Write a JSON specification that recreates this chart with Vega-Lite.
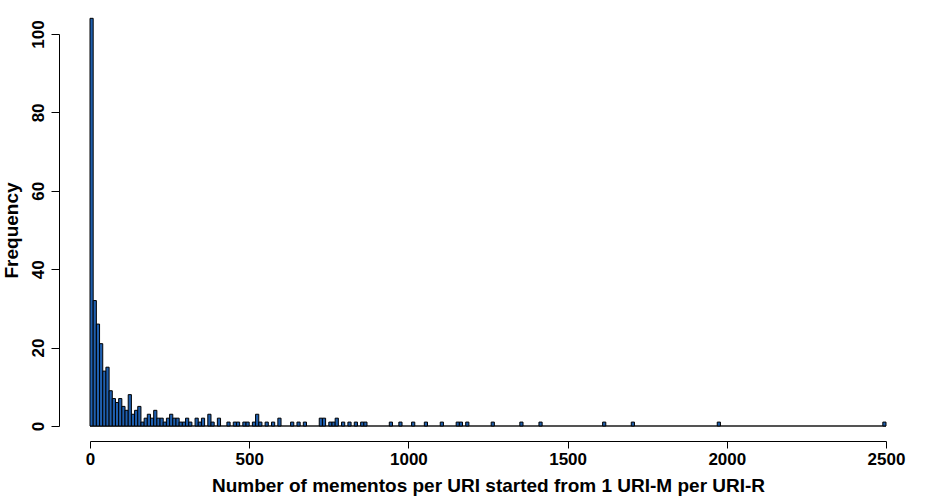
{
  "$schema": "https://vega.github.io/schema/vega-lite/v6.json",
  "width": 796,
  "height": 392,
  "autosize": {"type": "none"},
  "padding": {"left": 90, "top": 34, "right": 64, "bottom": 74},
  "background": "white",
  "config": {"view": {"stroke": null}, "font": "Liberation Sans"},
  "data": {"values": [
    {"start": 0, "end": 10, "count": 104},
    {"start": 10, "end": 20, "count": 32},
    {"start": 20, "end": 30, "count": 26},
    {"start": 30, "end": 40, "count": 21},
    {"start": 40, "end": 50, "count": 14},
    {"start": 50, "end": 60, "count": 15},
    {"start": 60, "end": 70, "count": 9},
    {"start": 70, "end": 80, "count": 7},
    {"start": 80, "end": 90, "count": 6},
    {"start": 90, "end": 100, "count": 7},
    {"start": 100, "end": 110, "count": 5},
    {"start": 110, "end": 120, "count": 4},
    {"start": 120, "end": 130, "count": 8},
    {"start": 130, "end": 140, "count": 3},
    {"start": 140, "end": 150, "count": 4},
    {"start": 150, "end": 160, "count": 5},
    {"start": 160, "end": 170, "count": 1},
    {"start": 170, "end": 180, "count": 2},
    {"start": 180, "end": 190, "count": 3},
    {"start": 190, "end": 200, "count": 2},
    {"start": 200, "end": 210, "count": 4},
    {"start": 210, "end": 220, "count": 2},
    {"start": 220, "end": 230, "count": 2},
    {"start": 230, "end": 240, "count": 1},
    {"start": 240, "end": 250, "count": 2},
    {"start": 250, "end": 260, "count": 3},
    {"start": 260, "end": 270, "count": 2},
    {"start": 270, "end": 280, "count": 2},
    {"start": 280, "end": 290, "count": 1},
    {"start": 290, "end": 300, "count": 1},
    {"start": 300, "end": 310, "count": 2},
    {"start": 310, "end": 320, "count": 1},
    {"start": 330, "end": 340, "count": 2},
    {"start": 340, "end": 350, "count": 1},
    {"start": 350, "end": 360, "count": 2},
    {"start": 370, "end": 380, "count": 3},
    {"start": 380, "end": 390, "count": 1},
    {"start": 400, "end": 410, "count": 2},
    {"start": 430, "end": 440, "count": 1},
    {"start": 450, "end": 460, "count": 1},
    {"start": 460, "end": 470, "count": 1},
    {"start": 480, "end": 490, "count": 1},
    {"start": 490, "end": 500, "count": 1},
    {"start": 510, "end": 520, "count": 1},
    {"start": 520, "end": 530, "count": 3},
    {"start": 530, "end": 540, "count": 1},
    {"start": 550, "end": 560, "count": 1},
    {"start": 570, "end": 580, "count": 1},
    {"start": 590, "end": 600, "count": 2},
    {"start": 630, "end": 640, "count": 1},
    {"start": 650, "end": 660, "count": 1},
    {"start": 670, "end": 680, "count": 1},
    {"start": 720, "end": 730, "count": 2},
    {"start": 730, "end": 740, "count": 2},
    {"start": 750, "end": 760, "count": 1},
    {"start": 760, "end": 770, "count": 1},
    {"start": 770, "end": 780, "count": 2},
    {"start": 790, "end": 800, "count": 1},
    {"start": 810, "end": 820, "count": 1},
    {"start": 830, "end": 840, "count": 1},
    {"start": 850, "end": 860, "count": 1},
    {"start": 860, "end": 870, "count": 1},
    {"start": 940, "end": 950, "count": 1},
    {"start": 970, "end": 980, "count": 1},
    {"start": 1010, "end": 1020, "count": 1},
    {"start": 1050, "end": 1060, "count": 1},
    {"start": 1100, "end": 1110, "count": 1},
    {"start": 1150, "end": 1160, "count": 1},
    {"start": 1160, "end": 1170, "count": 1},
    {"start": 1180, "end": 1190, "count": 1},
    {"start": 1260, "end": 1270, "count": 1},
    {"start": 1350, "end": 1360, "count": 1},
    {"start": 1410, "end": 1420, "count": 1},
    {"start": 1610, "end": 1620, "count": 1},
    {"start": 1700, "end": 1710, "count": 1},
    {"start": 1970, "end": 1980, "count": 1},
    {"start": 2490, "end": 2500, "count": 1}
  ]},
  "layer": [
    {
      "mark": {"type": "rule", "color": "#555555", "strokeWidth": 1},
      "encoding": {"y": {"datum": 0, "type": "quantitative"}}
    },
    {
      "mark": {"type": "bar", "fill": "#1f5fae", "stroke": "black", "strokeWidth": 1, "clip": false},
      "encoding": {
        "x": {
          "field": "start", "type": "quantitative",
          "scale": {"domain": [0, 2500], "nice": false, "zero": false},
          "axis": {
            "title": "Number of mementos per URI started from 1 URI-M per URI-R",
            "values": [0, 500, 1000, 1500, 2000, 2500],
            "format": "d",
            "offset": 15, "grid": false,
            "domainColor": "black", "tickColor": "black", "tickSize": 7,
            "labelFont": "Liberation Sans", "labelFontSize": 17, "labelFontWeight": "bold", "labelColor": "black",
            "labelPadding": 3, "labelFlush": false,
            "titleFont": "Liberation Sans", "titleFontSize": 19, "titleFontWeight": "bold", "titleColor": "black",
            "titlePadding": 9
          }
        },
        "x2": {"field": "end"},
        "y": {
          "field": "count", "type": "quantitative",
          "scale": {"domain": [0, 100], "nice": false},
          "axis": {
            "title": "Frequency",
            "values": [0, 20, 40, 60, 80, 100],
            "offset": 31, "grid": false,
            "domainColor": "black", "tickColor": "black", "tickSize": 8,
            "labelAngle": -90, "labelAlign": "center", "labelBaseline": "bottom",
            "labelFont": "Liberation Sans", "labelFontSize": 17, "labelFontWeight": "bold", "labelColor": "black",
            "labelPadding": 4, "labelFlush": false,
            "titleFont": "Liberation Sans", "titleFontSize": 19, "titleFontWeight": "bold", "titleColor": "black",
            "titlePadding": 8
          }
        },
        "y2": {"datum": 0}
      }
    }
  ]
}
